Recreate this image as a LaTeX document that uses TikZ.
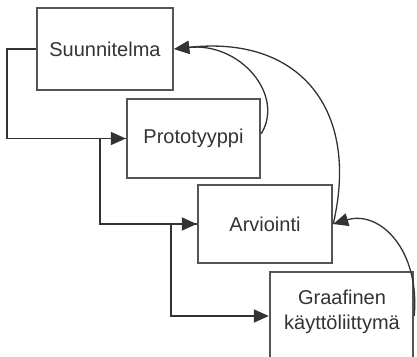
\documentclass[tikz,border=0pt]{standalone}
\usepackage{fontspec}
\setmainfont{Liberation Sans}
\usetikzlibrary{arrows.meta}
\definecolor{boxline}{HTML}{555555}
\definecolor{ink}{HTML}{333333}
\begin{document}
\begin{tikzpicture}[x=1pt,y=-1pt,
  phase/.style={draw=boxline,line width=2.4pt,fill=white,rectangle,inner sep=0pt,
    text=ink,align=center,font=\fontsize{20}{25}\selectfont},
  caption/.style={text=ink,align=center,inner sep=0pt,font=\fontsize{20}{25}\selectfont},
  flow/.style={draw=ink,line width=1.8pt,-{Triangle[length=15pt,width=13pt]}},
  back/.style={draw=ink,line width=1.3pt,-{Triangle[length=15pt,width=13pt]}}]
\useasboundingbox[fill=white] (0,0) rectangle (417,356);
\clip (0,0) rectangle (417,356);

% phase boxes
\node[phase,minimum width=136pt,minimum height=82pt] (S) at (105,49) {Suunnitelma};
\node[phase,minimum width=133pt,minimum height=79pt] (P) at (193.5,138.5) {Prototyyppi};
\node[phase,minimum width=134pt,minimum height=78pt] (A) at (265,224) {Arviointi};
\node[phase,minimum width=143pt,minimum height=88pt] (G) at (341.5,316) {};
\node[caption] (Gt) at (342,312) {Graafinen\\käyttöliittymä};

% forward flow between phases
\draw[flow] (S.west) -- ++(-29,0) |- (P.west);
\draw[flow] (P.west) -- ++(-26,0) |- (A.west);
\draw[flow] (A.west) -- ++(-26,0) |- (G.west);

% feedback loops
\draw[back] (P.4) .. controls (285,95) and (240,42) .. (S.east);
\draw[back] (A.east) .. controls (360,110) and (300,35) .. (S.east);
\draw[back] (G.east) .. controls (420,250) and (380,210) .. (A.east);
\end{tikzpicture}
\end{document}
